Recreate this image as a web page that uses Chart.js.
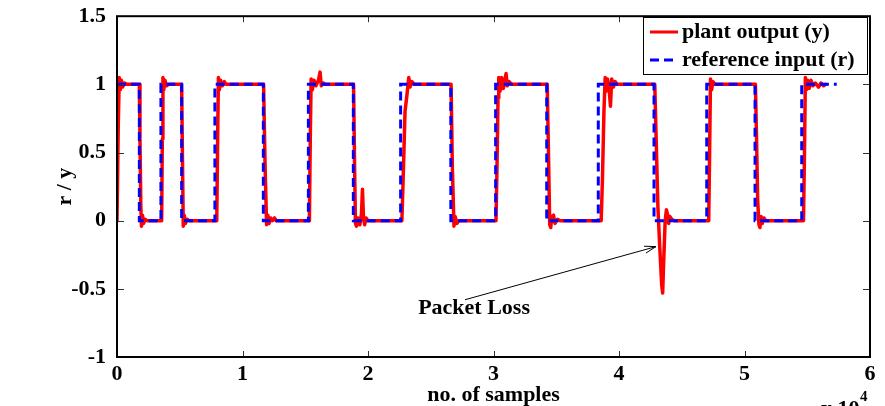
<!DOCTYPE html>
<html>
<head>
<meta charset="utf-8">
<script src="https://cdn.jsdelivr.net/npm/chart.js@4.4.0/dist/chart.umd.min.js"></script>
<style>
  body { margin: 0; background: #fff; }
  #wrap { width: 885px; height: 406px; }
</style>
</head>
<body>
<div id="wrap"><canvas id="plot" width="885" height="406"></canvas></div>
<script>
// tick labels
const xTickLabels = ['0', '1', '2', '3', '4', '5', '6'];
const yTickLabels = ['-1', '-0.5', '0', '0.5', '1', '1.5'];

// reference input r : switching instants (samples) and level held after each
const refEdges  = [0, 1780, 3500, 5150, 7800, 11660, 15250, 18830, 22600, 26600, 30170, 34240, 38350, 42790, 46990, 50840, 54560, 57350];
const refLevels = [1, 0, 1, 0, 1, 0, 1, 0, 1, 0, 1, 0, 1, 0, 1, 0, 1];

// plant output y
const outSamples = [
  0, 100, 180, 260, 350, 450, 600, 800, 1780, 1830, 1900, 1950, 2030, 2120, 2250, 2400,
  3560, 3610, 3660, 3730, 3820, 3950, 4100, 5150, 5210, 5280, 5360, 5450, 5600, 5750,
  7950, 8020, 8080, 8160, 8250, 8400, 8550, 8700, 11680, 11800, 11920, 12020, 12120, 12250, 12400, 12550, 12700,
  15330, 15400, 15470, 15560, 15700, 15850, 16050, 16180, 16280, 16450, 16600,
  18850, 18930, 19000, 19080, 19200, 19350, 19480, 19560, 19640, 19730, 19850, 20000,
  22700, 22800, 22950, 23100, 23250, 23350, 23500, 23700, 26620, 26720, 26850, 26950, 27080, 27250,
  30200, 30280, 30360, 30420, 30520, 30650, 30780, 30900, 31000, 31100, 31250, 31450,
  34280, 34380, 34480, 34560, 34650, 34780, 34900, 35100, 35300,
  38580, 38680, 38800, 38900, 38980, 39080, 39200, 39320, 39420, 39550, 39700, 39850,
  42850, 42960, 43100, 43250, 43400, 43480, 43560, 43680, 43780, 43880, 43960, 44050, 44200, 44400,
  47150, 47220, 47290, 47380, 47480, 47650, 50870, 50960, 51050, 51150, 51230, 51320, 51420, 51550, 51700,
  54700, 54780, 54850, 54930, 55030, 55150, 55300, 55450, 55650, 55900, 56100, 56300, 56450
];
const outValues = [
  0, 0.7, 1.05, 0.96, 1.03, 0.98, 1.01, 1.0, 1.0, 0.6, 0.1, -0.04, 0.04, -0.02, 0.01, 0,
  0, 0.6, 1.05, 0.96, 1.03, 0.99, 1.0, 1.0, 0.5, -0.04, 0.04, -0.02, 0.01, 0,
  0, 0.6, 1.05, 0.96, 1.03, 0.99, 1.02, 1.0, 1.0, 0.4, -0.03, 0.04, -0.02, 0.02, 0.0, 0.02, 0,
  0, 0.6, 1.04, 0.96, 1.03, 0.99, 1.03, 1.09, 0.99, 1.01, 1.0,
  1.0, 0.4, -0.02, -0.04, 0.02, -0.03, 0.05, 0.23, 0.02, -0.03, 0.02, 0,
  0, 0.3, 0.8, 0.92, 1.05, 0.98, 1.02, 1.0, 1.0, 0.4, -0.04, 0.03, -0.02, 0,
  0, 0.4, 0.9, 1.05, 0.95, 1.05, 0.97, 1.02, 1.08, 0.99, 1.02, 1.0,
  1.0, 0.5, -0.03, -0.05, 0.03, 0.04, -0.02, 0.01, 0,
  0, 0.3, 0.8, 1.05, 0.95, 1.04, 0.98, 0.84, 1.04, 0.98, 1.02, 1.0,
  1.0, 0.6, 0.1, -0.2, -0.47, -0.53, -0.3, 0.0, 0.08, 0.04, -0.02, 0.03, 0.01, 0,
  0, 0.5, 1.04, 0.96, 1.02, 1.0, 1.0, 0.6, 0.15, -0.03, -0.05, 0.03, -0.02, 0.02, 0,
  0, 0.5, 1.05, 0.96, 1.03, 0.97, 1.03, 0.99, 1.01, 0.98, 1.01, 0.99, 1.0
];

// annotation: text anchor and arrow (data coordinates)
const noteText = 'Packet Loss';
const notePos = [28450, -0.64];
const arrowFrom = [27730, -0.58];
const arrowTo = [42950, -0.19];

const FONT = "'Liberation Serif', 'Times New Roman', serif";

// build step trace for r
const refPts = [];
for (let i = 0; i < refLevels.length; i++) {
    refPts.push({x: refEdges[i], y: refLevels[i]});
    refPts.push({x: refEdges[i + 1], y: refLevels[i]});
}
const outPts = outSamples.map((s, i) => ({x: s, y: outValues[i]}));

// box, inward ticks, legend, annotation, exponent
const extras = {
    id: 'extras',
    afterDatasetsDraw(chart) {
        const {ctx, chartArea: a, scales: {x, y}} = chart;
        ctx.save();
        // ticks pointing inward
        ctx.strokeStyle = '#333';
        ctx.lineWidth = 1;
        ctx.beginPath();
        for (let v = 1; v < xTickLabels.length - 1; v++) {
            const px = Math.round(x.getPixelForValue(v * 10000)) + 0.5;
            ctx.moveTo(px, a.bottom); ctx.lineTo(px, a.bottom - 6);
            ctx.moveTo(px, a.top); ctx.lineTo(px, a.top + 6);
        }
        for (let i = 1; i < yTickLabels.length - 1; i++) {
            const py = Math.round(y.getPixelForValue(parseFloat(yTickLabels[i]))) + 0.5;
            ctx.moveTo(a.left, py); ctx.lineTo(a.left + 7, py);
            ctx.moveTo(a.right, py); ctx.lineTo(a.right - 7, py);
        }
        ctx.stroke();
        // box
        ctx.strokeStyle = '#000';
        ctx.lineWidth = 2;
        ctx.strokeRect(a.left, a.top, a.right - a.left, a.bottom - a.top);

        // annotation
        const fx = x.getPixelForValue(arrowFrom[0]), fy = y.getPixelForValue(arrowFrom[1]);
        const tx = x.getPixelForValue(arrowTo[0]), ty = y.getPixelForValue(arrowTo[1]);
        ctx.strokeStyle = '#000';
        ctx.fillStyle = '#000';
        ctx.lineWidth = 1;
        ctx.beginPath(); ctx.moveTo(fx, fy); ctx.lineTo(tx, ty); ctx.stroke();
        const ang = Math.atan2(ty - fy, tx - fx);
        ctx.beginPath();
        ctx.moveTo(tx, ty);
        ctx.lineTo(tx - 12 * Math.cos(ang - 0.3), ty - 12 * Math.sin(ang - 0.3));
        ctx.moveTo(tx, ty);
        ctx.lineTo(tx - 12 * Math.cos(ang + 0.3), ty - 12 * Math.sin(ang + 0.3));
        ctx.stroke();
        ctx.font = 'bold 22px ' + FONT;
        ctx.textAlign = 'center';
        ctx.textBaseline = 'middle';
        ctx.fillText(noteText, x.getPixelForValue(notePos[0]), y.getPixelForValue(notePos[1]));

        // legend
        const lx = 643, ly = 17, lw = 224, lh = 57;
        ctx.fillStyle = '#fff';
        ctx.fillRect(lx, ly, lw, lh);
        ctx.strokeStyle = '#000';
        ctx.lineWidth = 1;
        ctx.strokeRect(lx + 0.5, ly + 0.5, lw, lh);
        chart.data.datasets.forEach((ds, i) => {
            const rowY = ly + 15 + i * 28;
            ctx.strokeStyle = ds.borderColor;
            ctx.lineWidth = 3;
            ctx.setLineDash(ds.borderDash || []);
            ctx.beginPath(); ctx.moveTo(lx + 7, rowY); ctx.lineTo(lx + 35, rowY); ctx.stroke();
            ctx.setLineDash([]);
            ctx.fillStyle = '#000';
            ctx.textAlign = 'left';
            ctx.fillText(ds.label, lx + 39, rowY);
        });

        // exponent
        ctx.textBaseline = 'alphabetic';
        ctx.fillText('x 10', 821, 415);
        ctx.font = 'bold 15px ' + FONT;
        ctx.fillText('4', 860, 401);
        ctx.restore();
    }
};

new Chart(document.getElementById('plot'), {
    type: 'line',
    data: {
        datasets: [{
            label: 'plant output (y)',
            data: outPts,
            borderColor: '#ff0000',
            borderWidth: 3.5,
            borderJoinStyle: 'round',
            borderCapStyle: 'round',
            pointRadius: 0,
            tension: 0,
            order: 2
        }, {
            label: 'reference input (r)',
            data: refPts,
            borderColor: '#0000ff',
            borderWidth: 3,
            borderDash: [9, 5],
            pointRadius: 0,
            tension: 0,
            order: 1
        }]
    },
    options: {
        responsive: false,
        animation: false,
        layout: { padding: { top: 13, right: 15, left: 0, bottom: 0 } },
        plugins: { legend: { display: false }, tooltip: { enabled: false } },
        scales: {
            x: {
                type: 'linear',
                min: 0, max: 60000,
                afterFit: s => { s.height = 49; },
                afterBuildTicks: s => { s.ticks = xTickLabels.map((t, i) => ({value: i * 10000})); },
                ticks: {
                    color: '#000',
                    padding: -4,
                    maxRotation: 0,
                    font: { family: FONT, size: 22, weight: 'bold' },
                    callback: (v, i) => xTickLabels[i]
                },
                grid: { display: false },
                border: { display: false },
                title: {
                    display: true, text: 'no. of samples', color: '#000',
                    font: { family: FONT, size: 22, weight: 'bold' },
                    padding: { top: 0, bottom: -3 }
                }
            },
            y: {
                min: -1, max: 1.5,
                afterFit: s => { s.width = 117; },
                afterBuildTicks: s => { s.ticks = yTickLabels.map(t => ({value: parseFloat(t)})); },
                ticks: {
                    color: '#000',
                    padding: 3,
                    font: { family: FONT, size: 22, weight: 'bold' },
                    callback: (v, i) => yTickLabels[i]
                },
                grid: { display: false },
                border: { display: false },
                title: {
                    display: true, text: 'r / y', color: '#000',
                    font: { family: FONT, size: 22, weight: 'bold' },
                    padding: { top: 52, bottom: 0 }
                }
            }
        }
    },
    plugins: [extras]
});
</script>
</body>
</html>
